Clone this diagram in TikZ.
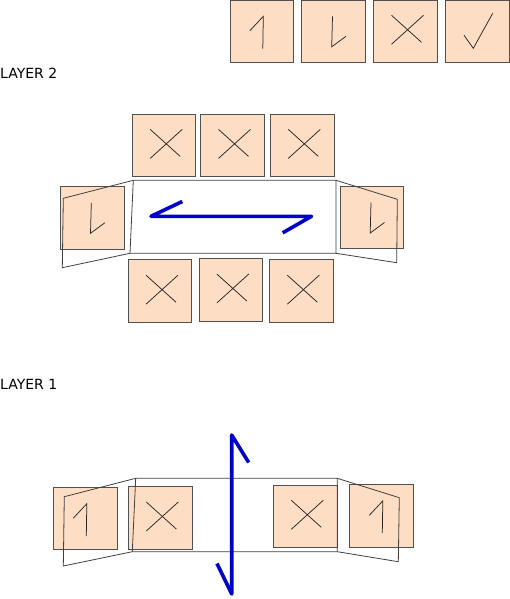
\documentclass[tikz,border=0pt]{standalone}
\usepackage{fontspec}
\setmainfont{DejaVu Sans}
\definecolor{peach}{RGB}{253,222,196}
\definecolor{edgegray}{RGB}{80,80,80}
\definecolor{arrowblue}{RGB}{0,0,204}
\tikzset{
  card/.style={draw=edgegray, line width=1pt, fill=peach, minimum width=63.5pt, minimum height=62.5pt, inner sep=0pt, outer sep=0pt},
  glyph/.style={draw=black!85, line width=0.75pt},
  frame/.style={draw=black!75, line width=0.8pt, line join=miter},
  bluearrow/.style={draw=arrowblue, line width=3.6pt, line join=round, line cap=butt},
  layerlabel/.style={anchor=base west, inner sep=0pt, font=\fontsize{14pt}{16pt}\selectfont},
  pics/one/.style={code={\draw[glyph] (-12,-0.5) -- (1.5,-15) -- (1,17.3);}},
  pics/ell/.style={code={\draw[glyph] (-1,-15) -- (-1.8,15.5) -- (12.5,5);}},
  pics/cross/.style={code={\draw[glyph] (-14,-16) -- (16,11); \draw[glyph] (-14,13) -- (18,-16);}},
  pics/tick/.style={code={\draw[glyph] (-13.5,4) -- (-4.2,17) -- (15.2,-18);}}
}
\begin{document}
\begin{tikzpicture}[x=1pt,y=-1pt]
\useasboundingbox (0,0) rectangle (510,599);

% top legend row
\node[card] (t1) at (261.8,31.3) {};
\node[card] (t2) at (333.5,31.3) {};
\node[card] (t3) at (405.5,31.3) {};
\node[card] (t4) at (477.5,31.3) {};
\pic at (t1) {one};
\pic at (t2) {ell};
\pic at (t3) {cross};
\pic at (t4) {tick};

% layer labels
\node[layerlabel] (lab2) at (0,79) {LAYER 2};
\node[layerlabel] (lab1) at (0,389.3) {LAYER 1};

% ---------- LAYER 2 ----------
\node[card] (a1) at (164.2,145.4) {};
\node[card] (a2) at (232.5,145.4) {};
\node[card] (a3) at (302.3,145.4) {};
\node[card] (al) at (92.3,217.8) {};
\node[card] (ar) at (372,217.5) {};
\node[card] (c1) at (160,291.2) {};
\node[card] (c2) at (230.8,290) {};
\node[card] (c3) at (301.3,291.2) {};
\pic at (a1) {cross};
\pic at (a2) {cross};
\pic at (a3) {cross};
\pic at (c1) {cross};
\pic at (c2) {cross};
\pic at (c3) {cross};
\pic at (al) {ell};
\pic at (ar) {ell};

\coordinate (r2a) at (133.3,180.3);
\coordinate (r2b) at (336,180.3);
\coordinate (r2c) at (336,253.3);
\coordinate (r2d) at (130,253.3);
\coordinate (l2a) at (63.3,198.3);
\coordinate (l2b) at (62.3,267.7);
\coordinate (q2a) at (397.3,199.3);
\coordinate (q2b) at (396.7,262.7);
\draw[frame] (r2a) -- (r2b) -- (r2c) -- (r2d) -- cycle;
\draw[frame] (r2a) -- (l2a) -- (l2b) -- (r2d);
\draw[frame] (r2b) -- (q2a) -- (q2b) -- (r2c);

\coordinate (h1) at (182.3,201.5);
\coordinate (h2) at (151,216.3);
\coordinate (h3) at (311.5,216.3);
\coordinate (h4) at (282.7,232.8);
\draw[bluearrow] (h1) -- (h2) -- (h3) -- (h4);

% ---------- LAYER 1 ----------
\node[card] (d1) at (85.3,518.7) {};
\node[card] (d2) at (160.3,518) {};
\node[card] (d3) at (305.3,516.3) {};
\node[card] (d4) at (381.3,515.8) {};
\pic at (d1) {one};
\pic at (d2) {cross};
\pic at (d3) {cross};
\pic at (d4) {one};

\coordinate (r1a) at (135.7,478.3);
\coordinate (r1b) at (337.3,478.3);
\coordinate (r1c) at (337.3,551.7);
\coordinate (r1d) at (132.3,551.7);
\coordinate (l1a) at (64.3,496.7);
\coordinate (l1b) at (63.3,566);
\coordinate (q1a) at (399.3,497.7);
\coordinate (q1b) at (398.3,561.7);
\draw[frame] (r1a) -- (r1b) -- (r1c) -- (r1d) -- cycle;
\draw[frame] (r1a) -- (l1a) -- (l1b) -- (r1d);
\draw[frame] (r1b) -- (q1a) -- (q1b) -- (r1c);

\coordinate (v1) at (217,563.5);
\coordinate (v2) at (231.7,594);
\coordinate (v3) at (231.7,435);
\coordinate (v4) at (248.7,462.5);
\draw[bluearrow] (v1) -- (v2) -- (v3) -- (v4);
\end{tikzpicture}
\end{document}
